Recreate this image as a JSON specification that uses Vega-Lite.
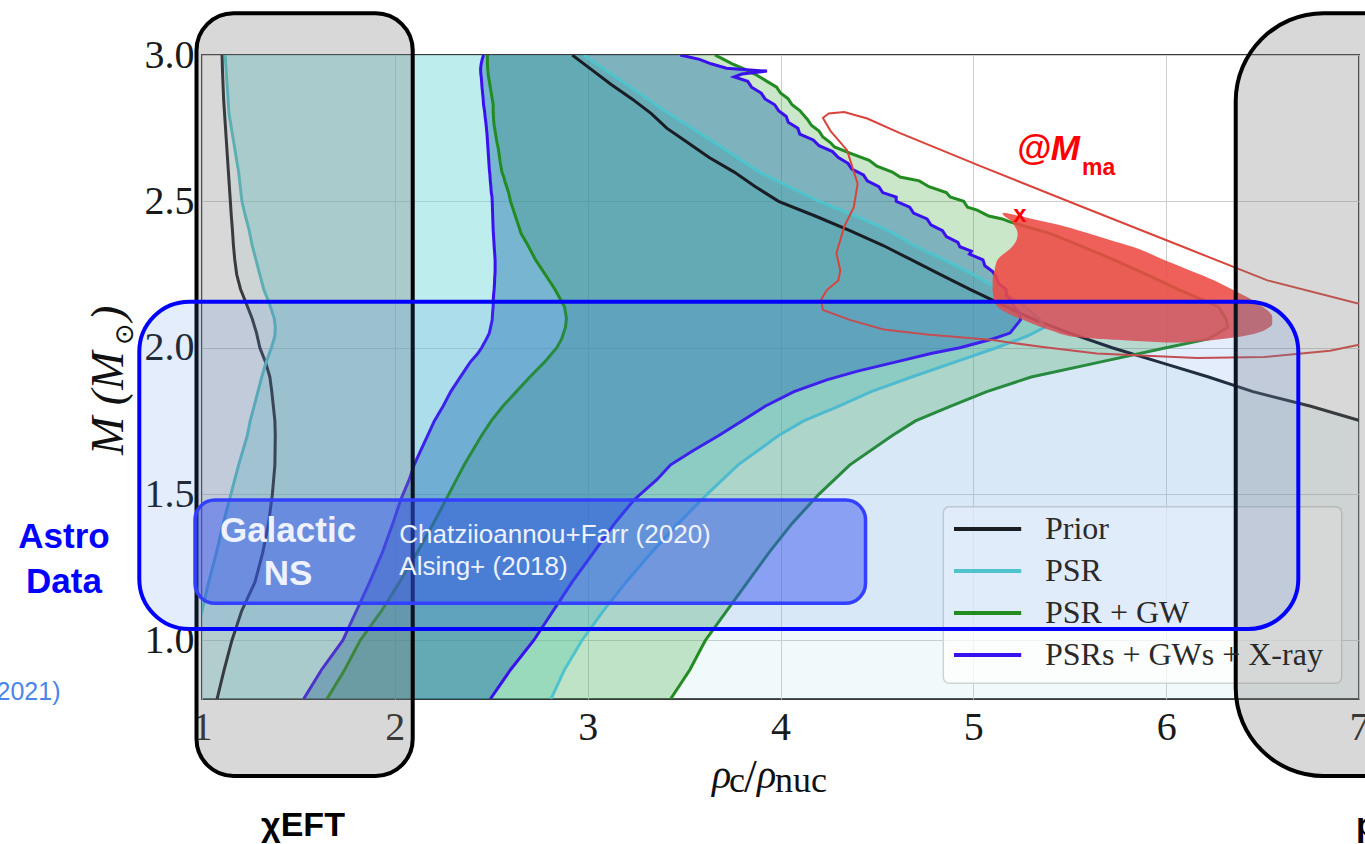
{
  "$schema": "https://vega.github.io/schema/vega-lite/v6.json",
  "width": 1157,
  "height": 644,
  "autosize": "none",
  "padding": {"left": 202, "top": 55, "right": 6, "bottom": 145},
  "background": "white",
  "config": {
    "view": {"stroke": "#3a3a3a", "strokeWidth": 2},
    "axis": {"grid": true, "gridColor": "#cdcdcd", "gridWidth": 1, "ticks": false, "domain": false, "labelFont": "Liberation Serif", "labelFontSize": 40, "labelColor": "#1a1a1a", "labelPadding": 8}
  },
  "datasets": {
    "bands": [
      {"band": "Prior", "M": 0.8, "lo": 1.078, "hi": 7.6},
      {"band": "Prior", "M": 0.9, "lo": 1.115, "hi": 7.6},
      {"band": "Prior", "M": 1.0, "lo": 1.155, "hi": 7.6},
      {"band": "Prior", "M": 1.1, "lo": 1.205, "hi": 7.6},
      {"band": "Prior", "M": 1.2, "lo": 1.275, "hi": 7.6},
      {"band": "Prior", "M": 1.3, "lo": 1.315, "hi": 7.6},
      {"band": "Prior", "M": 1.4, "lo": 1.345, "hi": 7.6},
      {"band": "Prior", "M": 1.5, "lo": 1.365, "hi": 7.6},
      {"band": "Prior", "M": 1.6, "lo": 1.378, "hi": 7.6},
      {"band": "Prior", "M": 1.7, "lo": 1.38, "hi": 7.6},
      {"band": "Prior", "M": 1.75, "lo": 1.378, "hi": 7.01},
      {"band": "Prior", "M": 1.8, "lo": 1.37, "hi": 6.75},
      {"band": "Prior", "M": 1.85, "lo": 1.362, "hi": 6.45},
      {"band": "Prior", "M": 1.9, "lo": 1.352, "hi": 6.22},
      {"band": "Prior", "M": 1.95, "lo": 1.33, "hi": 5.97},
      {"band": "Prior", "M": 2.0, "lo": 1.3, "hi": 5.72},
      {"band": "Prior", "M": 2.05, "lo": 1.283, "hi": 5.5},
      {"band": "Prior", "M": 2.1, "lo": 1.26, "hi": 5.3},
      {"band": "Prior", "M": 2.15, "lo": 1.23, "hi": 5.14},
      {"band": "Prior", "M": 2.2, "lo": 1.2, "hi": 4.98},
      {"band": "Prior", "M": 2.25, "lo": 1.18, "hi": 4.83},
      {"band": "Prior", "M": 2.3, "lo": 1.17, "hi": 4.68},
      {"band": "Prior", "M": 2.35, "lo": 1.163, "hi": 4.53},
      {"band": "Prior", "M": 2.4, "lo": 1.158, "hi": 4.36},
      {"band": "Prior", "M": 2.45, "lo": 1.152, "hi": 4.18},
      {"band": "Prior", "M": 2.5, "lo": 1.147, "hi": 3.99},
      {"band": "Prior", "M": 2.55, "lo": 1.142, "hi": 3.87},
      {"band": "Prior", "M": 2.6, "lo": 1.137, "hi": 3.76},
      {"band": "Prior", "M": 2.65, "lo": 1.132, "hi": 3.63},
      {"band": "Prior", "M": 2.7, "lo": 1.127, "hi": 3.52},
      {"band": "Prior", "M": 2.75, "lo": 1.122, "hi": 3.41},
      {"band": "Prior", "M": 2.8, "lo": 1.117, "hi": 3.33},
      {"band": "Prior", "M": 2.85, "lo": 1.112, "hi": 3.23},
      {"band": "Prior", "M": 2.9, "lo": 1.109, "hi": 3.12},
      {"band": "Prior", "M": 2.95, "lo": 1.106, "hi": 3.02},
      {"band": "Prior", "M": 3.0, "lo": 1.104, "hi": 2.92},

      {"band": "PSR", "M": 0.8, "lo": 0.85, "hi": 2.81},
      {"band": "PSR", "M": 0.9, "lo": 0.9, "hi": 2.88},
      {"band": "PSR", "M": 1.0, "lo": 0.95, "hi": 2.97},
      {"band": "PSR", "M": 1.1, "lo": 1.0, "hi": 3.08},
      {"band": "PSR", "M": 1.2, "lo": 1.035, "hi": 3.2},
      {"band": "PSR", "M": 1.3, "lo": 1.075, "hi": 3.33},
      {"band": "PSR", "M": 1.4, "lo": 1.11, "hi": 3.47},
      {"band": "PSR", "M": 1.5, "lo": 1.15, "hi": 3.62},
      {"band": "PSR", "M": 1.6, "lo": 1.19, "hi": 3.78},
      {"band": "PSR", "M": 1.7, "lo": 1.235, "hi": 3.99},
      {"band": "PSR", "M": 1.75, "lo": 1.25, "hi": 4.12},
      {"band": "PSR", "M": 1.8, "lo": 1.27, "hi": 4.3},
      {"band": "PSR", "M": 1.85, "lo": 1.29, "hi": 4.47},
      {"band": "PSR", "M": 1.9, "lo": 1.31, "hi": 4.68},
      {"band": "PSR", "M": 1.95, "lo": 1.332, "hi": 4.9},
      {"band": "PSR", "M": 2.0, "lo": 1.36, "hi": 5.12},
      {"band": "PSR", "M": 2.04, "lo": 1.378, "hi": 5.28},
      {"band": "PSR", "M": 2.07, "lo": 1.38, "hi": 5.37},
      {"band": "PSR", "M": 2.1, "lo": 1.375, "hi": 5.34},
      {"band": "PSR", "M": 2.15, "lo": 1.35, "hi": 5.25},
      {"band": "PSR", "M": 2.2, "lo": 1.32, "hi": 5.13},
      {"band": "PSR", "M": 2.25, "lo": 1.3, "hi": 5.0},
      {"band": "PSR", "M": 2.3, "lo": 1.28, "hi": 4.85},
      {"band": "PSR", "M": 2.35, "lo": 1.26, "hi": 4.69},
      {"band": "PSR", "M": 2.4, "lo": 1.245, "hi": 4.56},
      {"band": "PSR", "M": 2.45, "lo": 1.225, "hi": 4.39},
      {"band": "PSR", "M": 2.5, "lo": 1.207, "hi": 4.2},
      {"band": "PSR", "M": 2.6, "lo": 1.19, "hi": 3.89},
      {"band": "PSR", "M": 2.7, "lo": 1.165, "hi": 3.66},
      {"band": "PSR", "M": 2.8, "lo": 1.14, "hi": 3.42},
      {"band": "PSR", "M": 2.9, "lo": 1.13, "hi": 3.2},
      {"band": "PSR", "M": 3.0, "lo": 1.12, "hi": 2.98},

      {"band": "PSR + GW", "M": 0.8, "lo": 1.648, "hi": 3.43},
      {"band": "PSR + GW", "M": 0.9, "lo": 1.74, "hi": 3.53},
      {"band": "PSR + GW", "M": 1.0, "lo": 1.82, "hi": 3.61},
      {"band": "PSR + GW", "M": 1.1, "lo": 1.93, "hi": 3.72},
      {"band": "PSR + GW", "M": 1.2, "lo": 2.025, "hi": 3.83},
      {"band": "PSR + GW", "M": 1.3, "lo": 2.115, "hi": 3.94},
      {"band": "PSR + GW", "M": 1.4, "lo": 2.2, "hi": 4.06},
      {"band": "PSR + GW", "M": 1.5, "lo": 2.28, "hi": 4.2},
      {"band": "PSR + GW", "M": 1.6, "lo": 2.36, "hi": 4.36},
      {"band": "PSR + GW", "M": 1.7, "lo": 2.45, "hi": 4.58},
      {"band": "PSR + GW", "M": 1.75, "lo": 2.5, "hi": 4.7},
      {"band": "PSR + GW", "M": 1.8, "lo": 2.56, "hi": 4.88},
      {"band": "PSR + GW", "M": 1.85, "lo": 2.63, "hi": 5.07},
      {"band": "PSR + GW", "M": 1.9, "lo": 2.7, "hi": 5.3},
      {"band": "PSR + GW", "M": 1.95, "lo": 2.775, "hi": 5.65},
      {"band": "PSR + GW", "M": 2.0, "lo": 2.84, "hi": 6.0},
      {"band": "PSR + GW", "M": 2.03, "lo": 2.865, "hi": 6.22},
      {"band": "PSR + GW", "M": 2.07, "lo": 2.885, "hi": 6.32},
      {"band": "PSR + GW", "M": 2.1, "lo": 2.89, "hi": 6.31},
      {"band": "PSR + GW", "M": 2.14, "lo": 2.88, "hi": 6.27},
      {"band": "PSR + GW", "M": 2.2, "lo": 2.83, "hi": 6.06},
      {"band": "PSR + GW", "M": 2.25, "lo": 2.78, "hi": 5.9},
      {"band": "PSR + GW", "M": 2.3, "lo": 2.73, "hi": 5.73},
      {"band": "PSR + GW", "M": 2.35, "lo": 2.69, "hi": 5.55},
      {"band": "PSR + GW", "M": 2.39, "lo": 2.655, "hi": 5.4},
      {"band": "PSR + GW", "M": 2.43, "lo": 2.635, "hi": 5.19},
      {"band": "PSR + GW", "M": 2.44, "lo": 2.63, "hi": 5.15},
      {"band": "PSR + GW", "M": 2.45, "lo": 2.625, "hi": 5.08},
      {"band": "PSR + GW", "M": 2.46, "lo": 2.62, "hi": 5.05},
      {"band": "PSR + GW", "M": 2.47, "lo": 2.615, "hi": 5.02},
      {"band": "PSR + GW", "M": 2.48, "lo": 2.61, "hi": 4.97},
      {"band": "PSR + GW", "M": 2.5, "lo": 2.6, "hi": 4.95},
      {"band": "PSR + GW", "M": 2.515, "lo": 2.595, "hi": 4.88},
      {"band": "PSR + GW", "M": 2.53, "lo": 2.59, "hi": 4.86},
      {"band": "PSR + GW", "M": 2.55, "lo": 2.58, "hi": 4.77},
      {"band": "PSR + GW", "M": 2.57, "lo": 2.57, "hi": 4.72},
      {"band": "PSR + GW", "M": 2.583, "lo": 2.565, "hi": 4.62},
      {"band": "PSR + GW", "M": 2.6, "lo": 2.555, "hi": 4.58},
      {"band": "PSR + GW", "M": 2.62, "lo": 2.55, "hi": 4.5},
      {"band": "PSR + GW", "M": 2.64, "lo": 2.545, "hi": 4.46},
      {"band": "PSR + GW", "M": 2.665, "lo": 2.54, "hi": 4.36},
      {"band": "PSR + GW", "M": 2.686, "lo": 2.535, "hi": 4.28},
      {"band": "PSR + GW", "M": 2.7, "lo": 2.53, "hi": 4.26},
      {"band": "PSR + GW", "M": 2.72, "lo": 2.525, "hi": 4.22},
      {"band": "PSR + GW", "M": 2.74, "lo": 2.52, "hi": 4.2},
      {"band": "PSR + GW", "M": 2.76, "lo": 2.515, "hi": 4.16},
      {"band": "PSR + GW", "M": 2.78, "lo": 2.512, "hi": 4.14},
      {"band": "PSR + GW", "M": 2.81, "lo": 2.51, "hi": 4.1},
      {"band": "PSR + GW", "M": 2.83, "lo": 2.51, "hi": 4.06},
      {"band": "PSR + GW", "M": 2.85, "lo": 2.505, "hi": 4.04},
      {"band": "PSR + GW", "M": 2.87, "lo": 2.5, "hi": 4.0},
      {"band": "PSR + GW", "M": 2.89, "lo": 2.495, "hi": 3.98},
      {"band": "PSR + GW", "M": 2.91, "lo": 2.49, "hi": 3.93},
      {"band": "PSR + GW", "M": 2.93, "lo": 2.485, "hi": 3.88},
      {"band": "PSR + GW", "M": 2.95, "lo": 2.482, "hi": 3.82},
      {"band": "PSR + GW", "M": 2.97, "lo": 2.48, "hi": 3.75},
      {"band": "PSR + GW", "M": 2.99, "lo": 2.48, "hi": 3.69},
      {"band": "PSR + GW", "M": 3.0, "lo": 2.48, "hi": 3.66},

      {"band": "PSRs + GWs + X-ray", "M": 0.8, "lo": 1.527, "hi": 2.495},
      {"band": "PSRs + GWs + X-ray", "M": 0.9, "lo": 1.62, "hi": 2.6},
      {"band": "PSRs + GWs + X-ray", "M": 1.0, "lo": 1.73, "hi": 2.72},
      {"band": "PSRs + GWs + X-ray", "M": 1.1, "lo": 1.8, "hi": 2.82},
      {"band": "PSRs + GWs + X-ray", "M": 1.2, "lo": 1.87, "hi": 2.92},
      {"band": "PSRs + GWs + X-ray", "M": 1.3, "lo": 1.935, "hi": 3.03},
      {"band": "PSRs + GWs + X-ray", "M": 1.4, "lo": 1.99, "hi": 3.14},
      {"band": "PSRs + GWs + X-ray", "M": 1.48, "lo": 2.03, "hi": 3.24},
      {"band": "PSRs + GWs + X-ray", "M": 1.55, "lo": 2.075, "hi": 3.36},
      {"band": "PSRs + GWs + X-ray", "M": 1.6, "lo": 2.1, "hi": 3.43},
      {"band": "PSRs + GWs + X-ray", "M": 1.65, "lo": 2.135, "hi": 3.55},
      {"band": "PSRs + GWs + X-ray", "M": 1.7, "lo": 2.17, "hi": 3.68},
      {"band": "PSRs + GWs + X-ray", "M": 1.75, "lo": 2.205, "hi": 3.8},
      {"band": "PSRs + GWs + X-ray", "M": 1.8, "lo": 2.25, "hi": 3.92},
      {"band": "PSRs + GWs + X-ray", "M": 1.85, "lo": 2.29, "hi": 4.07},
      {"band": "PSRs + GWs + X-ray", "M": 1.89, "lo": 2.33, "hi": 4.24},
      {"band": "PSRs + GWs + X-ray", "M": 1.92, "lo": 2.36, "hi": 4.4},
      {"band": "PSRs + GWs + X-ray", "M": 1.95, "lo": 2.39, "hi": 4.59},
      {"band": "PSRs + GWs + X-ray", "M": 1.98, "lo": 2.43, "hi": 4.78},
      {"band": "PSRs + GWs + X-ray", "M": 2.0, "lo": 2.45, "hi": 4.93},
      {"band": "PSRs + GWs + X-ray", "M": 2.03, "lo": 2.475, "hi": 5.1},
      {"band": "PSRs + GWs + X-ray", "M": 2.05, "lo": 2.49, "hi": 5.19},
      {"band": "PSRs + GWs + X-ray", "M": 2.095, "lo": 2.505, "hi": 5.245},
      {"band": "PSRs + GWs + X-ray", "M": 2.12, "lo": 2.507, "hi": 5.24},
      {"band": "PSRs + GWs + X-ray", "M": 2.14, "lo": 2.51, "hi": 5.21},
      {"band": "PSRs + GWs + X-ray", "M": 2.16, "lo": 2.51, "hi": 5.2},
      {"band": "PSRs + GWs + X-ray", "M": 2.18, "lo": 2.512, "hi": 5.17},
      {"band": "PSRs + GWs + X-ray", "M": 2.2, "lo": 2.515, "hi": 5.17},
      {"band": "PSRs + GWs + X-ray", "M": 2.22, "lo": 2.517, "hi": 5.13},
      {"band": "PSRs + GWs + X-ray", "M": 2.24, "lo": 2.518, "hi": 5.12},
      {"band": "PSRs + GWs + X-ray", "M": 2.26, "lo": 2.52, "hi": 5.1},
      {"band": "PSRs + GWs + X-ray", "M": 2.28, "lo": 2.52, "hi": 5.06},
      {"band": "PSRs + GWs + X-ray", "M": 2.3, "lo": 2.52, "hi": 5.05},
      {"band": "PSRs + GWs + X-ray", "M": 2.32, "lo": 2.518, "hi": 4.98},
      {"band": "PSRs + GWs + X-ray", "M": 2.33, "lo": 2.517, "hi": 4.99},
      {"band": "PSRs + GWs + X-ray", "M": 2.345, "lo": 2.515, "hi": 4.93},
      {"band": "PSRs + GWs + X-ray", "M": 2.36, "lo": 2.514, "hi": 4.92},
      {"band": "PSRs + GWs + X-ray", "M": 2.38, "lo": 2.512, "hi": 4.86},
      {"band": "PSRs + GWs + X-ray", "M": 2.4, "lo": 2.51, "hi": 4.84},
      {"band": "PSRs + GWs + X-ray", "M": 2.42, "lo": 2.509, "hi": 4.78},
      {"band": "PSRs + GWs + X-ray", "M": 2.44, "lo": 2.508, "hi": 4.76},
      {"band": "PSRs + GWs + X-ray", "M": 2.46, "lo": 2.507, "hi": 4.69},
      {"band": "PSRs + GWs + X-ray", "M": 2.48, "lo": 2.506, "hi": 4.67},
      {"band": "PSRs + GWs + X-ray", "M": 2.5, "lo": 2.505, "hi": 4.6},
      {"band": "PSRs + GWs + X-ray", "M": 2.515, "lo": 2.504, "hi": 4.6},
      {"band": "PSRs + GWs + X-ray", "M": 2.53, "lo": 2.5, "hi": 4.53},
      {"band": "PSRs + GWs + X-ray", "M": 2.55, "lo": 2.498, "hi": 4.51},
      {"band": "PSRs + GWs + X-ray", "M": 2.57, "lo": 2.495, "hi": 4.45},
      {"band": "PSRs + GWs + X-ray", "M": 2.59, "lo": 2.493, "hi": 4.43},
      {"band": "PSRs + GWs + X-ray", "M": 2.61, "lo": 2.49, "hi": 4.37},
      {"band": "PSRs + GWs + X-ray", "M": 2.63, "lo": 2.488, "hi": 4.35},
      {"band": "PSRs + GWs + X-ray", "M": 2.65, "lo": 2.486, "hi": 4.3},
      {"band": "PSRs + GWs + X-ray", "M": 2.67, "lo": 2.484, "hi": 4.27},
      {"band": "PSRs + GWs + X-ray", "M": 2.69, "lo": 2.482, "hi": 4.2},
      {"band": "PSRs + GWs + X-ray", "M": 2.71, "lo": 2.48, "hi": 4.17},
      {"band": "PSRs + GWs + X-ray", "M": 2.73, "lo": 2.478, "hi": 4.1},
      {"band": "PSRs + GWs + X-ray", "M": 2.75, "lo": 2.475, "hi": 4.09},
      {"band": "PSRs + GWs + X-ray", "M": 2.77, "lo": 2.472, "hi": 4.04},
      {"band": "PSRs + GWs + X-ray", "M": 2.79, "lo": 2.468, "hi": 4.03},
      {"band": "PSRs + GWs + X-ray", "M": 2.81, "lo": 2.465, "hi": 3.99},
      {"band": "PSRs + GWs + X-ray", "M": 2.83, "lo": 2.46, "hi": 3.97},
      {"band": "PSRs + GWs + X-ray", "M": 2.85, "lo": 2.458, "hi": 3.92},
      {"band": "PSRs + GWs + X-ray", "M": 2.87, "lo": 2.455, "hi": 3.9},
      {"band": "PSRs + GWs + X-ray", "M": 2.89, "lo": 2.452, "hi": 3.85},
      {"band": "PSRs + GWs + X-ray", "M": 2.91, "lo": 2.45, "hi": 3.83},
      {"band": "PSRs + GWs + X-ray", "M": 2.925, "lo": 2.448, "hi": 3.76},
      {"band": "PSRs + GWs + X-ray", "M": 2.935, "lo": 2.446, "hi": 3.8},
      {"band": "PSRs + GWs + X-ray", "M": 2.945, "lo": 2.445, "hi": 3.93},
      {"band": "PSRs + GWs + X-ray", "M": 2.955, "lo": 2.445, "hi": 3.72},
      {"band": "PSRs + GWs + X-ray", "M": 2.97, "lo": 2.448, "hi": 3.64},
      {"band": "PSRs + GWs + X-ray", "M": 2.985, "lo": 2.453, "hi": 3.58},
      {"band": "PSRs + GWs + X-ray", "M": 3.0, "lo": 2.46, "hi": 3.48}
    ],
    "blob": [
      {"M": 2.018, "lo": 6.0, "hi": 6.1},
      {"M": 2.025, "lo": 5.8, "hi": 6.22},
      {"M": 2.035, "lo": 5.55, "hi": 6.35},
      {"M": 2.06, "lo": 5.4, "hi": 6.51},
      {"M": 2.084, "lo": 5.3, "hi": 6.55},
      {"M": 2.105, "lo": 5.22, "hi": 6.55},
      {"M": 2.14, "lo": 5.125, "hi": 6.5},
      {"M": 2.173, "lo": 5.105, "hi": 6.42},
      {"M": 2.2, "lo": 5.1, "hi": 6.34},
      {"M": 2.23, "lo": 5.1, "hi": 6.25},
      {"M": 2.265, "lo": 5.11, "hi": 6.12},
      {"M": 2.3, "lo": 5.125, "hi": 5.99},
      {"M": 2.344, "lo": 5.2, "hi": 5.83},
      {"M": 2.37, "lo": 5.225, "hi": 5.7},
      {"M": 2.39, "lo": 5.23, "hi": 5.6},
      {"M": 2.415, "lo": 5.215, "hi": 5.47},
      {"M": 2.436, "lo": 5.19, "hi": 5.33},
      {"M": 2.45, "lo": 5.16, "hi": 5.24},
      {"M": 2.46, "lo": 5.15, "hi": 5.17}
    ],
    "contour": [
      {"i": 1, "rho": 7.4, "M": 2.1},
      {"i": 2, "rho": 7.0, "M": 2.15},
      {"i": 3, "rho": 6.525, "M": 2.23},
      {"i": 4, "rho": 6.09, "M": 2.344},
      {"i": 5, "rho": 5.57, "M": 2.48},
      {"i": 6, "rho": 5.05, "M": 2.617},
      {"i": 7, "rho": 4.62, "M": 2.733},
      {"i": 8, "rho": 4.45, "M": 2.783},
      {"i": 9, "rho": 4.33, "M": 2.805},
      {"i": 10, "rho": 4.25, "M": 2.8},
      {"i": 11, "rho": 4.22, "M": 2.785},
      {"i": 12, "rho": 4.26, "M": 2.74},
      {"i": 13, "rho": 4.345, "M": 2.675},
      {"i": 14, "rho": 4.4, "M": 2.56},
      {"i": 15, "rho": 4.38, "M": 2.48},
      {"i": 16, "rho": 4.33, "M": 2.413},
      {"i": 17, "rho": 4.29, "M": 2.323},
      {"i": 18, "rho": 4.31, "M": 2.265},
      {"i": 19, "rho": 4.3, "M": 2.23},
      {"i": 20, "rho": 4.24, "M": 2.197},
      {"i": 21, "rho": 4.21, "M": 2.163},
      {"i": 22, "rho": 4.22, "M": 2.129},
      {"i": 23, "rho": 4.36, "M": 2.095},
      {"i": 24, "rho": 4.535, "M": 2.062},
      {"i": 25, "rho": 4.76, "M": 2.045},
      {"i": 26, "rho": 5.1, "M": 2.026},
      {"i": 27, "rho": 5.35, "M": 2.003},
      {"i": 28, "rho": 5.64, "M": 1.98},
      {"i": 29, "rho": 6.16, "M": 1.965},
      {"i": 30, "rho": 6.51, "M": 1.968},
      {"i": 31, "rho": 6.85, "M": 1.99},
      {"i": 32, "rho": 7.0, "M": 2.01},
      {"i": 33, "rho": 7.4, "M": 2.05}
    ]
  },
  "layer": [
    {
      "data": {"name": "bands"},
      "transform": [{"filter": {"field": "band", "equal": "Prior"}}],
      "mark": {"type": "area", "orient": "horizontal", "color": "#a8dde0", "opacity": 0.16, "clip": true},
      "encoding": {
        "y": {"field": "M", "type": "quantitative", "scale": {"domain": [0.8, 3.0], "nice": false, "zero": false}, "axis": {"values": [1.0, 1.5, 2.0, 2.5, 3.0], "format": ".1f", "title": null}},
        "x": {"field": "lo", "type": "quantitative", "scale": {"domain": [1, 7], "nice": false, "zero": false}, "axis": {"values": [1, 2, 3, 4, 5, 6, 7], "format": "d", "labelFlush": false, "labelOverlap": false, "title": null}},
        "x2": {"field": "hi"}
      }
    },
    {
      "data": {"name": "bands"},
      "transform": [{"filter": {"field": "band", "equal": "PSR"}}],
      "mark": {"type": "area", "orient": "horizontal", "color": "#5fd3d3", "opacity": 0.35, "clip": true},
      "encoding": {
        "y": {"field": "M", "type": "quantitative", "title": null},
        "x": {"field": "lo", "type": "quantitative", "title": null},
        "x2": {"field": "hi"}
      }
    },
    {
      "data": {"name": "bands"},
      "transform": [{"filter": {"field": "band", "equal": "PSR + GW"}}],
      "mark": {"type": "area", "orient": "horizontal", "color": "#2ca02c", "opacity": 0.25, "clip": true},
      "encoding": {
        "y": {"field": "M", "type": "quantitative", "title": null},
        "x": {"field": "lo", "type": "quantitative", "title": null},
        "x2": {"field": "hi"}
      }
    },
    {
      "data": {"name": "bands"},
      "transform": [{"filter": {"field": "band", "equal": "PSRs + GWs + X-ray"}}],
      "mark": {"type": "area", "orient": "horizontal", "color": "#2272ad", "opacity": 0.45, "clip": true},
      "encoding": {
        "y": {"field": "M", "type": "quantitative", "title": null},
        "x": {"field": "lo", "type": "quantitative", "title": null},
        "x2": {"field": "hi"}
      }
    },
    {
      "data": {"name": "bands"},
      "mark": {"type": "line", "strokeWidth": 3, "clip": true},
      "encoding": {
        "y": {"field": "M", "type": "quantitative", "title": null},
        "x": {"field": "lo", "type": "quantitative", "title": null},
        "order": {"field": "M", "type": "quantitative"},
        "color": {"field": "band", "type": "nominal", "scale": {"domain": ["Prior", "PSR", "PSR + GW", "PSRs + GWs + X-ray"], "range": ["#1a1e24", "#4fc4cc", "#228b22", "#3a10ee"]},
          "legend": {"title": null, "orient": "none", "legendX": 769.6, "legendY": 458, "padding": 0, "symbolType": "M-2.4,0H2.4", "symbolSize": 784, "symbolStrokeWidth": 4, "symbolFillColor": "transparent", "labelFont": "Liberation Serif", "labelFontSize": 32, "labelColor": "#2a2a2a", "labelOffset": 41.4, "rowPadding": 10, "labelLimit": 0}}
      }
    },
    {
      "data": {"name": "bands"},
      "mark": {"type": "line", "strokeWidth": 3, "clip": true},
      "encoding": {
        "y": {"field": "M", "type": "quantitative", "title": null},
        "x": {"field": "hi", "type": "quantitative", "title": null},
        "order": {"field": "M", "type": "quantitative"},
        "color": {"field": "band", "type": "nominal"}
      }
    },
    {
      "data": {"name": "blob"},
      "mark": {"type": "area", "orient": "horizontal", "color": "#ee4a44", "opacity": 0.88, "clip": true, "interpolate": "monotone"},
      "encoding": {
        "y": {"field": "M", "type": "quantitative", "title": null},
        "x": {"field": "lo", "type": "quantitative", "title": null},
        "x2": {"field": "hi"}
      }
    },
    {
      "data": {"name": "contour"},
      "mark": {"type": "line", "color": "#d8443a", "strokeWidth": 2, "clip": true},
      "encoding": {
        "y": {"field": "M", "type": "quantitative", "title": null},
        "x": {"field": "rho", "type": "quantitative", "title": null},
        "order": {"field": "i", "type": "quantitative"}
      }
    },
    {
      "data": {"values": [{"label": "legend frame"}]},
      "mark": {"type": "rect", "fill": "white", "fillOpacity": 0.75, "stroke": "#d2d2d2", "strokeWidth": 1.5, "cornerRadius": 6},
      "encoding": {
        "x": {"datum": 4.8443, "type": "quantitative", "title": null},
        "x2": {"datum": 6.9104},
        "y": {"datum": 1.457, "type": "quantitative", "title": null},
        "y2": {"datum": 0.8537}
      }
    },
    {
      "data": {"values": [{"label": "x"}]},
      "mark": {"type": "text", "font": "Liberation Sans", "fontSize": 24, "fontWeight": "bold", "color": "#ff0000", "align": "center", "baseline": "alphabetic"},
      "encoding": {
        "x": {"datum": 5.2421, "type": "quantitative", "title": null},
        "y": {"datum": 2.4295, "type": "quantitative", "title": null},
        "text": {"field": "label"}
      }
    },
    {
      "data": {"values": [{"label": "@M"}]},
      "mark": {"type": "text", "font": "Liberation Sans", "fontSize": 35, "fontWeight": "bold", "fontStyle": "italic", "color": "#ff0000", "align": "left", "baseline": "alphabetic"},
      "encoding": {
        "x": {"datum": 5.225, "type": "quantitative", "title": null},
        "y": {"datum": 2.6413, "type": "quantitative", "title": null},
        "text": {"field": "label"}
      }
    },
    {
      "data": {"values": [{"label": "ma"}]},
      "mark": {"type": "text", "font": "Liberation Sans", "fontSize": 23, "fontWeight": "bold", "color": "#ff0000", "align": "left", "baseline": "alphabetic"},
      "encoding": {
        "x": {"datum": 5.5636, "type": "quantitative", "title": null},
        "y": {"datum": 2.5901, "type": "quantitative", "title": null},
        "text": {"field": "label"}
      }
    },
    {
      "data": {"values": [{"label": "χEFT box"}]},
      "mark": {"type": "rect", "fill": "#7f7f7f", "fillOpacity": 0.3, "stroke": "#000000", "strokeWidth": 4, "cornerRadius": 37},
      "encoding": {
        "x": {"datum": 0.9715, "type": "quantitative", "title": null},
        "x2": {"datum": 2.0927},
        "y": {"datum": 3.1425, "type": "quantitative", "title": null},
        "y2": {"datum": 0.537}
      }
    },
    {
      "data": {"values": [{"label": "pQCD box"}]},
      "mark": {"type": "rect", "fill": "#7f7f7f", "fillOpacity": 0.3, "stroke": "#000000", "strokeWidth": 4, "cornerRadius": 88},
      "encoding": {
        "x": {"datum": 6.3607, "type": "quantitative", "title": null},
        "x2": {"datum": 7.9},
        "y": {"datum": 3.1425, "type": "quantitative", "title": null},
        "y2": {"datum": 0.537}
      }
    },
    {
      "data": {"values": [{"label": "Astro box"}]},
      "mark": {"type": "rect", "fill": "#4d88e6", "fillOpacity": 0.15, "stroke": "#0000ff", "strokeWidth": 4, "cornerRadius": 50},
      "encoding": {
        "x": {"datum": 0.6748, "type": "quantitative", "title": null},
        "x2": {"datum": 6.6853},
        "y": {"datum": 2.1573, "type": "quantitative", "title": null},
        "y2": {"datum": 1.0392}
      }
    },
    {
      "data": {"values": [{"label": "Galactic box"}]},
      "mark": {"type": "rect", "fill": "#3250f0", "fillOpacity": 0.47, "stroke": "#3340ff", "strokeWidth": 3.5, "cornerRadius": 20},
      "encoding": {
        "x": {"datum": 0.9637, "type": "quantitative", "title": null},
        "x2": {"datum": 4.4409},
        "y": {"datum": 1.4798, "type": "quantitative", "title": null},
        "y2": {"datum": 1.127}
      }
    },
    {
      "data": {"values": [{"label": "Galactic", "px": 1.446, "py": 1.3374}, {"label": "NS", "px": 1.446, "py": 1.1895}]},
      "mark": {"type": "text", "font": "Liberation Sans", "fontSize": 35, "fontWeight": "bold", "color": "#eef2ff", "align": "center", "baseline": "alphabetic"},
      "encoding": {
        "x": {"field": "px", "type": "quantitative", "title": null},
        "y": {"field": "py", "type": "quantitative", "title": null},
        "text": {"field": "label"}
      }
    },
    {
      "data": {"values": [{"label": "Chatziioannou+Farr (2020)", "px": 2.0232, "py": 1.333}, {"label": "Alsing+ (2018)", "px": 2.0232, "py": 1.2236}]},
      "mark": {"type": "text", "font": "Liberation Sans", "fontSize": 26, "color": "#eef2ff", "align": "left", "baseline": "alphabetic"},
      "encoding": {
        "x": {"field": "px", "type": "quantitative", "title": null},
        "y": {"field": "py", "type": "quantitative", "title": null},
        "text": {"field": "label"}
      }
    },
    {
      "data": {"values": [{"label": "Astro", "px": 0.2843, "py": 1.3159}, {"label": "Data", "px": 0.2843, "py": 1.1621}]},
      "mark": {"type": "text", "font": "Liberation Sans", "fontSize": 35, "fontWeight": "bold", "color": "#0000ff", "align": "center", "baseline": "alphabetic"},
      "encoding": {
        "x": {"field": "px", "type": "quantitative", "title": null},
        "y": {"field": "py", "type": "quantitative", "title": null},
        "text": {"field": "label"}
      }
    },
    {
      "data": {"values": [{"label": "(2021)"}]},
      "mark": {"type": "text", "font": "Liberation Sans", "fontSize": 25, "color": "#4a86e8", "align": "right", "baseline": "alphabetic"},
      "encoding": {
        "x": {"datum": 0.2662, "type": "quantitative", "title": null},
        "y": {"datum": 0.7966, "type": "quantitative", "title": null},
        "text": {"field": "label"}
      }
    },
    {
      "data": {"values": [{"label": "χEFT"}]},
      "mark": {"type": "text", "font": "Liberation Sans", "fontSize": 34, "fontWeight": "bold", "color": "#000000", "align": "center", "baseline": "alphabetic"},
      "encoding": {
        "x": {"datum": 1.5238, "type": "quantitative", "title": null},
        "y": {"datum": 0.332, "type": "quantitative", "title": null},
        "text": {"field": "label"}
      }
    },
    {
      "data": {"values": [{"label": "pQCD"}]},
      "mark": {"type": "text", "font": "Liberation Sans", "fontSize": 34, "fontWeight": "bold", "color": "#000000", "align": "left", "baseline": "alphabetic"},
      "encoding": {
        "x": {"datum": 6.9845, "type": "quantitative", "title": null},
        "y": {"datum": 0.332, "type": "quantitative", "title": null},
        "text": {"field": "label"}
      }
    },
    {
      "data": {"values": [{"label": "ρ", "px": 3.6448, "py": 0.496}, {"label": "ρ", "px": 3.8782, "py": 0.496}]},
      "mark": {"type": "text", "font": "Liberation Serif", "fontSize": 40, "fontStyle": "italic", "color": "#111111", "align": "left", "baseline": "alphabetic"},
      "encoding": {
        "x": {"field": "px", "type": "quantitative", "title": null},
        "y": {"field": "py", "type": "quantitative", "title": null},
        "text": {"field": "label"}
      }
    },
    {
      "data": {"values": [{"label": "c", "px": 3.733, "py": 0.4824}, {"label": "nuc", "px": 3.972, "py": 0.4824}]},
      "mark": {"type": "text", "font": "Liberation Serif", "fontSize": 36, "color": "#111111", "align": "left", "baseline": "alphabetic"},
      "encoding": {
        "x": {"field": "px", "type": "quantitative", "title": null},
        "y": {"field": "py", "type": "quantitative", "title": null},
        "text": {"field": "label"}
      }
    },
    {
      "data": {"values": [{"label": "/"}]},
      "mark": {"type": "text", "font": "Liberation Serif", "fontSize": 46, "color": "#111111", "align": "left", "baseline": "alphabetic"},
      "encoding": {
        "x": {"datum": 3.8108, "type": "quantitative", "title": null},
        "y": {"datum": 0.4824, "type": "quantitative", "title": null},
        "text": {"field": "label"}
      }
    },
    {
      "data": {"values": [{"label": "M (M", "py": 1.6336}, {"label": ")", "py": 2.0913}]},
      "mark": {"type": "text", "font": "Liberation Serif", "fontSize": 46, "fontStyle": "italic", "color": "#111111", "align": "left", "baseline": "alphabetic", "angle": 270},
      "encoding": {
        "x": {"datum": 0.5903, "type": "quantitative", "title": null},
        "y": {"field": "py", "type": "quantitative", "title": null},
        "text": {"field": "label"}
      }
    },
    {
      "data": {"values": [{"label": "⊙"}]},
      "mark": {"type": "text", "font": "DejaVu Sans", "fontSize": 26, "color": "#111111", "align": "left", "baseline": "alphabetic", "angle": 270},
      "encoding": {
        "x": {"datum": 0.6422, "type": "quantitative", "title": null},
        "y": {"datum": 2.0093, "type": "quantitative", "title": null},
        "text": {"field": "label"}
      }
    }
  ]
}
